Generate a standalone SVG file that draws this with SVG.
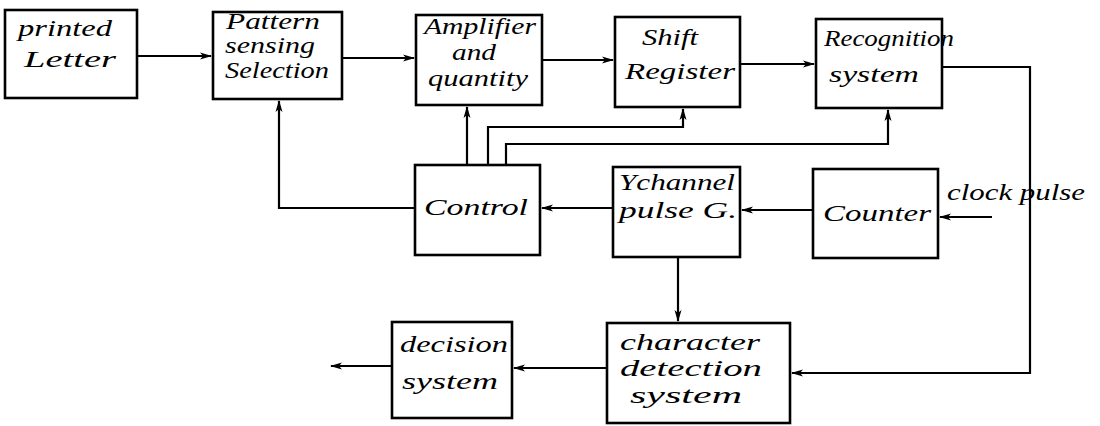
<svg xmlns="http://www.w3.org/2000/svg" width="1100" height="426" viewBox="0 0 1100 426">
  <defs>
    <marker id="arr" viewBox="0 0 12 8" refX="11" refY="4" markerWidth="12" markerHeight="8" markerUnits="userSpaceOnUse" orient="auto">
      <path d="M0,0.5 L12,4 L0,7.5 L3,4 Z" fill="#000"/>
    </marker>
  </defs>
  <style>
    .box { fill: #fff; stroke: #000; stroke-width: 2.6; }
    .wire { fill: none; stroke: #000; stroke-width: 2.2; }
    .lbl { font-family: "Liberation Serif", "DejaVu Serif", serif; font-style: italic; font-size: 24px; fill: #000; }
  </style>
  <rect width="1100" height="426" fill="#fff"/>

  <!-- connectors -->
  <g id="connectors">
    <path class="wire" d="M137,56 H211" marker-end="url(#arr)"/>
    <path class="wire" d="M342,58 H414" marker-end="url(#arr)"/>
    <path class="wire" d="M542,60 H613" marker-end="url(#arr)"/>
    <path class="wire" d="M740,64 H814" marker-end="url(#arr)"/>
    <!-- recognition output loops round to character detection -->
    <path class="wire" d="M942,67 H1030 V373 H792" marker-end="url(#arr)"/>
    <!-- clock input -->
    <path class="wire" d="M992,217 H940" marker-end="url(#arr)"/>
    <path class="wire" d="M813,210 H742" marker-end="url(#arr)"/>
    <path class="wire" d="M613,208 H542" marker-end="url(#arr)"/>
    <!-- control feedback to pattern sensing -->
    <path class="wire" d="M415,208 H279 V101" marker-end="url(#arr)"/>
    <!-- control lines up to the top row -->
    <path class="wire" d="M467,165 V107" marker-end="url(#arr)"/>
    <path class="wire" d="M488,165 V127 H683 V109" marker-end="url(#arr)"/>
    <path class="wire" d="M506,165 V144 H888 V110" marker-end="url(#arr)"/>
    <!-- Y channel to character detection -->
    <path class="wire" d="M678,257 V321" marker-end="url(#arr)"/>
    <path class="wire" d="M607,368 H514" marker-end="url(#arr)"/>
    <path class="wire" d="M392,366 H331" marker-end="url(#arr)"/>
  </g>

  <g id="printed-letter">
    <rect class="box" x="5" y="10" width="132" height="88"/>
    <text class="lbl" x="18" y="36" font-size="26" textLength="94" lengthAdjust="spacingAndGlyphs">printed</text>
    <text class="lbl" x="24" y="67" font-size="28" textLength="92" lengthAdjust="spacingAndGlyphs">Letter</text>
  </g>

  <g id="pattern-sensing">
    <rect class="box" x="213" y="12" width="129" height="87"/>
    <text class="lbl" x="226" y="29" font-size="18" textLength="94" lengthAdjust="spacingAndGlyphs">Pattern</text>
    <text class="lbl" x="225" y="53" font-size="19" textLength="90" lengthAdjust="spacingAndGlyphs">sensing</text>
    <text class="lbl" x="225" y="78" font-size="23" textLength="104" lengthAdjust="spacingAndGlyphs">Selection</text>
  </g>

  <g id="amplifier">
    <rect class="box" x="416" y="15" width="126" height="90"/>
    <text class="lbl" x="424" y="34" font-size="19" textLength="112" lengthAdjust="spacingAndGlyphs">Amplifier</text>
    <text class="lbl" x="452" y="60" font-size="16" textLength="44" lengthAdjust="spacingAndGlyphs">and</text>
    <text class="lbl" x="428" y="86" font-size="24" textLength="100" lengthAdjust="spacingAndGlyphs">quantity</text>
  </g>

  <g id="shift-register">
    <rect class="box" x="615" y="17" width="125" height="90"/>
    <text class="lbl" x="642" y="45" font-size="24" textLength="56" lengthAdjust="spacingAndGlyphs">Shift</text>
    <text class="lbl" x="625" y="79" font-size="28" textLength="110" lengthAdjust="spacingAndGlyphs">Register</text>
  </g>

  <g id="recognition">
    <rect class="box" x="816" y="19" width="126" height="89"/>
    <text class="lbl" x="824" y="46" font-size="24" textLength="130" lengthAdjust="spacingAndGlyphs">Recognition</text>
    <text class="lbl" x="829" y="82" font-size="26" textLength="90" lengthAdjust="spacingAndGlyphs">system</text>
  </g>

  <g id="control">
    <rect class="box" x="415" y="165" width="125" height="90"/>
    <text class="lbl" x="424" y="215" font-size="28" textLength="104" lengthAdjust="spacingAndGlyphs">Control</text>
  </g>

  <g id="ychannel">
    <rect class="box" x="613" y="167" width="127" height="90"/>
    <text class="lbl" x="619" y="190" font-size="24" textLength="116" lengthAdjust="spacingAndGlyphs">Ychannel</text>
    <text class="lbl" x="619" y="218" font-size="24" textLength="118" lengthAdjust="spacingAndGlyphs">pulse G.</text>
  </g>

  <g id="counter">
    <rect class="box" x="813" y="169" width="125" height="89"/>
    <text class="lbl" x="823" y="221" font-size="28" textLength="108" lengthAdjust="spacingAndGlyphs">Counter</text>
  </g>

  <g id="clock-pulse">
    <text class="lbl" x="947" y="200" font-size="25" textLength="138" lengthAdjust="spacingAndGlyphs">clock pulse</text>
  </g>

  <g id="decision">
    <rect class="box" x="392" y="322" width="120" height="96"/>
    <text class="lbl" x="400" y="352" font-size="26" textLength="108" lengthAdjust="spacingAndGlyphs">decision</text>
    <text class="lbl" x="402" y="389" font-size="26" textLength="96" lengthAdjust="spacingAndGlyphs">system</text>
  </g>

  <g id="character-detection">
    <rect class="box" x="607" y="323" width="183" height="100"/>
    <text class="lbl" x="620" y="350" font-size="25" textLength="140" lengthAdjust="spacingAndGlyphs">character</text>
    <text class="lbl" x="620" y="376" font-size="25" textLength="142" lengthAdjust="spacingAndGlyphs">detection</text>
    <text class="lbl" x="630" y="403" font-size="25" textLength="112" lengthAdjust="spacingAndGlyphs">system</text>
  </g>
</svg>
